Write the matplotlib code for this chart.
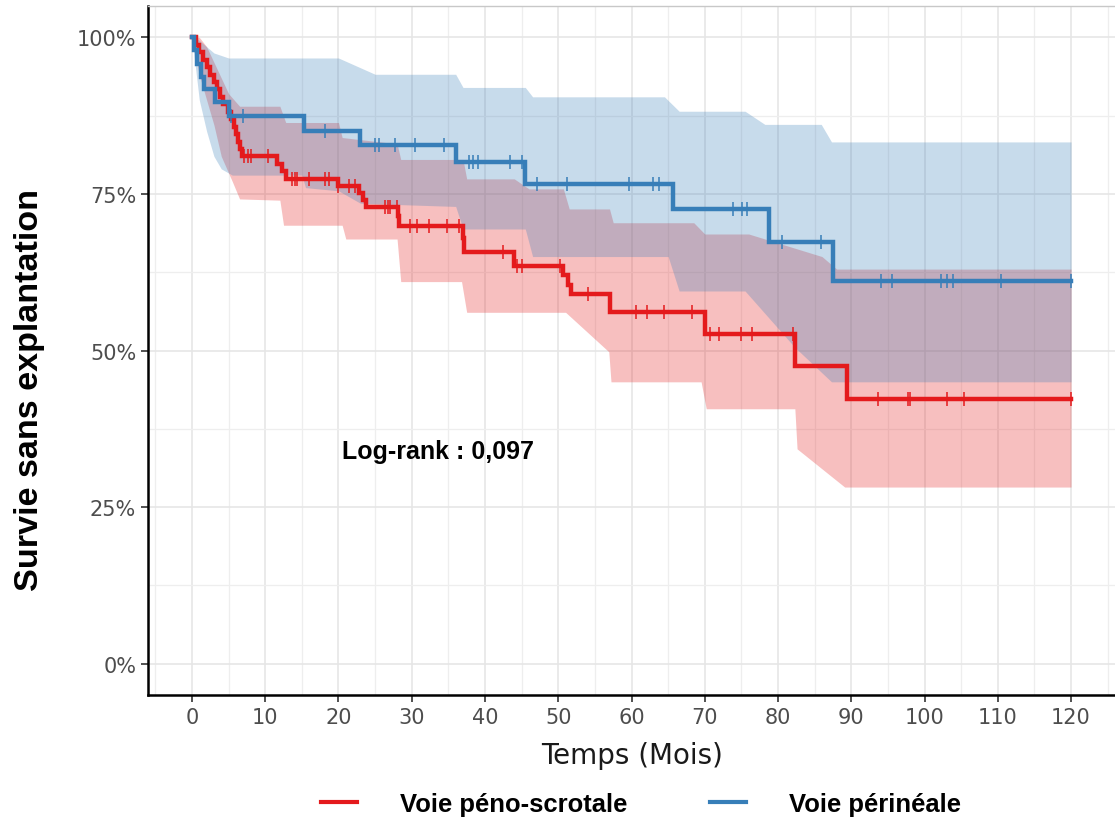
"""
Kaplan-Meier curves: survie sans explantation, voie péno-scrotale vs périnéale.
"""

import matplotlib
matplotlib.use("Agg")
import matplotlib.pyplot as plt
import numpy as np
from matplotlib import font_manager
from matplotlib.lines import Line2D
from matplotlib.ticker import MultipleLocator, FuncFormatter

# --- data --------------------------------------------------------------------
# Voie péno-scrotale (red): event times (months) and survival (%) after each
red_t = [0, 0.5, 1.0, 1.5, 2.0, 2.5, 3.0, 3.4, 3.8, 4.3, 4.9, 5.3, 5.7, 6.0,
         6.3, 6.6, 6.8, 11.6, 12.3, 12.8, 20.0, 22.8, 23.3, 23.8, 28.1, 28.3,
         37.0, 37.2, 43.9, 50.7, 51.3, 51.8, 57.1, 70.0, 82.3, 89.4]
red_s = [100, 98.8, 97.6, 96.4, 95.2, 94.0, 92.9, 91.7, 90.5, 89.3, 88.1,
         86.9, 85.7, 84.5, 83.3, 82.1, 81.0, 79.8, 78.6, 77.4, 76.3, 75.1,
         74.0, 72.9, 71.4, 69.9, 67.9, 65.8, 63.5, 62.0, 60.5, 59.0, 56.2,
         52.7, 47.5, 42.2]
red_cens = [7.1, 7.7, 8.0, 10.4, 13.7, 14.0, 14.4, 16.0, 18.1, 18.7, 20.0,
            21.4, 22.3, 26.4, 26.8, 27.1, 28.0, 29.8, 30.7, 32.3, 34.8, 36.4,
            42.5, 44.4, 45.0, 50.3, 54.1, 60.6, 62.1, 64.4, 68.2, 70.7, 71.9,
            74.9, 76.4, 82.0, 93.7, 97.8, 98.0, 103.0, 105.4, 120.0]
red_hi_t = [0, 1, 2, 3, 4, 5, 6.5, 12, 12.8, 20, 20.5, 28, 28.5, 37, 37.5,
            44, 46, 50.7, 51.5, 57, 57.5, 68.5, 70, 76, 86, 88, 120]
red_hi = [100, 100, 98.5, 96, 93.5, 91, 89, 89, 86.4, 86.4, 84, 83, 80.5,
          80.5, 77.4, 77.4, 75.8, 75.8, 72.6, 72.6, 70.4, 70.4, 68.6, 68.6,
          65.0, 63.0, 63.0]
red_lo_t = [0, 0.5, 1, 2, 3, 4, 5.5, 6.5, 12, 12.5, 20.5, 21, 28, 28.5,
            36.8, 37.5, 51, 56.9, 57.2, 69.5, 70.2, 82.3, 82.6, 89.1, 120]
red_lo = [100, 97, 94, 90, 86, 81, 77, 74.2, 74, 70, 70, 67.8, 67.8, 61,
          61, 56.1, 56.1, 49.8, 45, 45, 40.7, 40.7, 34.3, 28.2, 28.2]

# Voie périnéale (blue)
blue_t = [0, 0.3, 0.7, 1.2, 1.6, 3.2, 5.0, 15.3, 23.0, 36.1, 45.5, 65.6,
          78.8, 87.5]
blue_s = [100, 97.9, 95.8, 93.7, 91.7, 89.6, 87.5, 85.1, 82.8, 80.1, 76.6,
          72.6, 67.3, 61.1]
blue_cens = [5.3, 6.9, 18.1, 25.0, 25.6, 27.7, 30.5, 34.4, 37.8, 38.4, 39.0,
             43.4, 45.1, 47.1, 51.2, 59.6, 62.9, 63.7, 73.8, 75.1, 75.7, 80.5,
             85.9, 94.0, 95.5, 102.2, 103.1, 103.9, 110.5, 120.0]
blue_hi_t = [0, 0.5, 1.5, 3, 5, 20, 25, 36, 37, 45.5, 46.5, 64.5, 66.5, 75.5,
             78.2, 85.9, 87.3, 120]
blue_hi = [100, 100, 99, 97.5, 96.7, 96.7, 94.1, 94.1, 92.0, 92.0, 90.5, 90.5,
           88.2, 88.2, 86.1, 86.1, 83.3, 83.3]
blue_lo_t = [0, 0.5, 1, 2, 3, 4, 5.5, 15, 15.5, 20, 23, 36, 37, 45.5, 46.5,
             65, 66.5, 75.5, 82.3, 87.3, 120]
blue_lo = [100, 95, 90, 85, 81, 79, 78, 78, 76, 75.5, 73.5, 73, 69.4,
           69.4, 65, 65, 59.5, 59.5, 50.5, 45, 45]

group_labels = ["Voie péno-scrotale", "Voie périnéale"]
logrank_text = "Log-rank : 0,097"

RED = "#E41A1C"
BLUE = "#377EB8"

# --- fonts ------------------------------------------------------------------
installed = {f.name for f in font_manager.fontManager.ttflist}
if "Liberation Sans Narrow" in installed:
    BOLD_FAMILY, BOLD_SCALE = "Liberation Sans Narrow", 1.0
else:
    BOLD_FAMILY, BOLD_SCALE = "Liberation Sans", 0.82


def km_curve(t, s, t_end=120):
    return np.r_[t, t_end], np.r_[s, s[-1]]


def km_at(tq, t, s):
    idx = np.searchsorted(np.asarray(t), np.asarray(tq), side="right") - 1
    return np.asarray(s)[idx]


fig = plt.figure(figsize=(11.15, 8.2), dpi=100)
ax = fig.add_axes([148 / 1115, 1 - 696 / 820, (1115 - 148) / 1115, 689 / 820])

grid_t = np.linspace(0, 120, 2401)
for t_hi, hi, t_lo, lo, col in [(red_hi_t, red_hi, red_lo_t, red_lo, RED),
                                (blue_hi_t, blue_hi, blue_lo_t, blue_lo, BLUE)]:
    ax.fill_between(grid_t, np.interp(grid_t, t_lo, lo), np.interp(grid_t, t_hi, hi),
                    color=col, alpha=0.28, linewidth=0, zorder=2)

for t, s, cens, col in [(red_t, red_s, red_cens, RED),
                        (blue_t, blue_s, blue_cens, BLUE)]:
    xs, ys = km_curve(t, s)
    ax.step(xs, ys, where="post", color=col, linewidth=3.2, zorder=4,
            solid_joinstyle="miter")
    ax.plot(cens, km_at(cens, t, s), linestyle="none", marker="|",
            markersize=10, markeredgewidth=1.1, color=col, zorder=5)

ax.set_xlim(-6, 126)
ax.set_ylim(-5, 105)
ax.xaxis.set_major_locator(MultipleLocator(10))
ax.xaxis.set_minor_locator(MultipleLocator(5))
ax.yaxis.set_major_locator(MultipleLocator(25))
ax.yaxis.set_minor_locator(MultipleLocator(12.5))
ax.yaxis.set_major_formatter(FuncFormatter(lambda v, p: f"{v:.0f}%"))
ax.grid(True, which="major", color="#e6e6e6", linewidth=1.2, zorder=0)
ax.grid(True, which="minor", color="#eeeeee", linewidth=0.9, zorder=0)
ax.set_axisbelow(True)
ax.tick_params(which="major", length=5, width=1.2, color="#333333",
               labelcolor="#4d4d4d", labelsize=15)
ax.tick_params(which="minor", length=0)

for side in ("left", "bottom"):
    ax.spines[side].set_linewidth(1.8)
    ax.spines[side].set_color("black")
ax.spines["top"].set_color("#c8c8c8")
ax.spines["top"].set_linewidth(1.0)
ax.spines["right"].set_visible(False)

ax.text(20.5, 34, logrank_text, ha="left", va="center", fontweight="bold",
        family=BOLD_FAMILY, fontsize=22 * BOLD_SCALE, color="black", zorder=6)

fig.text(632 / 1115, 1 - 756 / 820, "Temps (Mois)", ha="center", va="center",
         fontsize=20, color="#1a1a1a")
fig.text(30 / 1115, 1 - 390 / 820, "Survie sans explantation", rotation=90,
         ha="center", va="center", fontweight="bold", family=BOLD_FAMILY,
         fontsize=30 * BOLD_SCALE, color="black")

handles = [Line2D([], [], color=RED, linewidth=3),
           Line2D([], [], color=BLUE, linewidth=3)]
leg = fig.legend(handles, group_labels, loc="center", ncol=2,
                 bbox_to_anchor=(641 / 1115, 1 - 805 / 820), frameon=False,
                 prop={"family": BOLD_FAMILY, "weight": "bold",
                       "size": 22.5 * BOLD_SCALE},
                 handlelength=1.4, handletextpad=1.7, columnspacing=3.2)

fig.savefig("out.png", dpi=100)
